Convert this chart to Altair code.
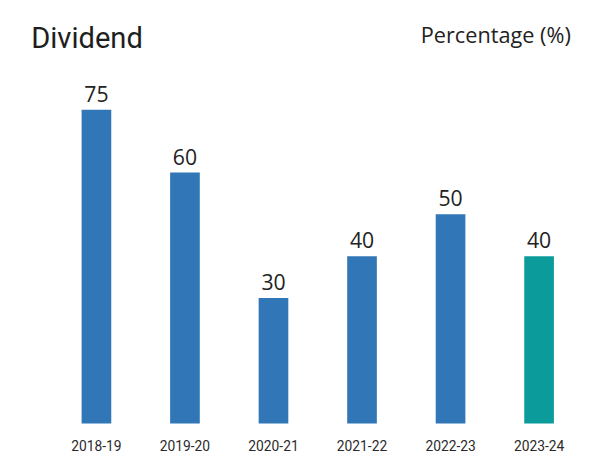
import altair as alt
import pandas as pd

years = ["2018-19", "2019-20", "2020-21", "2021-22", "2022-23", "2023-24"]
dividend = [75, 60, 30, 40, 50, 40]
group = ["past", "past", "past", "past", "past", "latest"]

df = pd.DataFrame({"year": years, "dividend": dividend, "group": group})

FONT = "Open Sans"

x_enc = alt.X(
    "year:N", sort=years,
    scale=alt.Scale(paddingInner=0.665, paddingOuter=0.33, round=False),
    axis=alt.Axis(title=None, labelAngle=0, domain=False, ticks=False, tickSize=0,
                  grid=False, labelPadding=27, labelBaseline="alphabetic",
                  labelFontSize=14, labelFont="Roboto", labelColor="#2a2a2a"),
)

bars = alt.Chart(df).mark_bar().encode(
    x=x_enc,
    y=alt.Y("dividend:Q", scale=alt.Scale(domain=[0, 75], nice=False, zero=True),
            axis=alt.Axis(title="Dividend", orient="left", labels=False, ticks=False,
                          domain=False, grid=False, titleAngle=0, titleAlign="left",
                          titleBaseline="alphabetic", titleX=-22, titleY=-63,
                          titleFont="Roboto", titleFontSize=29.5, titleFontWeight="normal",
                          titleColor="#1e1e1e")),
    color=alt.Color("group:N", scale=alt.Scale(domain=["past", "latest"],
                                               range=["#3176b6", "#0b9b9a"]), legend=None),
)

labels = alt.Chart(df).mark_text(dy=-8, baseline="alphabetic", fontSize=21.5, font=FONT,
                                 color="#222222").encode(
    x=x_enc,
    y=alt.Y("dividend:Q", scale=alt.Scale(domain=[0, 75], nice=False, zero=True),
            axis=alt.Axis(title="Percentage (%)", orient="right", labels=False, ticks=False,
                          domain=False, grid=False, titleAngle=0, titleAlign="right",
                          titleBaseline="alphabetic", titleX=-13, titleY=-68,
                          titleFont=FONT, titleFontSize=22, titleFontWeight="normal",
                          titleColor="#222222")),
    text="dividend:Q",
)

chart = (bars + labels).resolve_scale(y="independent").properties(
    width=538, height=318,
    autosize="none",
    padding={"left": 45, "top": 100, "right": 9, "bottom": 46},
    background="white",
).configure_view(stroke=None)

chart.save("out.html", embed_options={"renderer": "svg", "actions": False})
